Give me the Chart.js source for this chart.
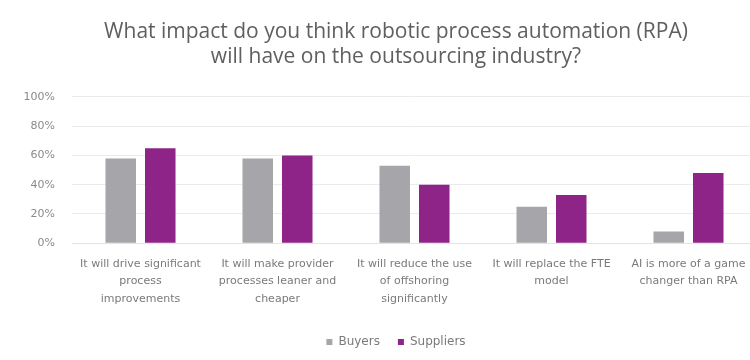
<!DOCTYPE html>
<html>
<head>
<meta charset="utf-8">
<script src="https://cdn.jsdelivr.net/npm/chart.js@4/dist/chart.umd.min.js"></script>
<style>
  html, body { margin: 0; padding: 0; background: #fff; overflow: hidden; }
  #wrap { position: absolute; left: 12px; top: 0; width: 768px; height: 360px; }
</style>
</head>
<body>
<div id="wrap"><canvas id="chart"></canvas></div>
<script>
var categories = [
    ['It will drive significant', 'process', 'improvements'],
    ['It will make provider', 'processes leaner and', 'cheaper'],
    ['It will reduce the use', 'of offshoring', 'significantly'],
    ['It will replace the FTE', 'model'],
    ['AI is more of a game', 'changer than RPA']
];
var buyers = [58, 58, 53, 25, 8];
var suppliers = [65, 60, 40, 33, 48];
var yTicks = [0, 20, 40, 60, 80, 100];

// y labels sit inside the left padding, widen the label clip area
var labelRoom = {
    id: 'labelRoom',
    afterLayout: function(chart) {
        chart.scales.y.left = 0;
    }
};

var ctx = document.getElementById('chart').getContext('2d');
var myChart = new Chart(ctx, {
    type: 'bar',
    data: {
        labels: categories,
        datasets: [{
            label: 'Buyers',
            data: buyers,
            backgroundColor: '#A6A6AA'
        }, {
            label: 'Suppliers',
            data: suppliers,
            backgroundColor: '#8E2488'
        }]
    },
    plugins: [labelRoom],
    options: {
        responsive: true,
        maintainAspectRatio: false,
        animation: false,
        // same padding both sides so title and legend stay centred on the canvas
        layout: { padding: { left: 23, right: 23, top: 0, bottom: 2 } },
        datasets: {
            bar: { categoryPercentage: 0.577, barPercentage: 0.772 }
        },
        plugins: {
            title: {
                display: true,
                text: ['What impact do you think robotic process automation (RPA)', 'will have on the outsourcing industry?'],
                color: '#5f5f5f',
                font: { family: 'Open Sans', size: 21, weight: 'normal', lineHeight: 1.19 },
                padding: { top: 20, bottom: 27 }
            },
            legend: {
                position: 'bottom',
                labels: {
                    color: '#7a7a7a',
                    boxWidth: 6,
                    boxHeight: 6,
                    padding: 18,
                    font: { family: 'DejaVu Sans', size: 12 }
                }
            },
            tooltip: { enabled: false }
        },
        scales: {
            x: {
                afterFit: function(scale) { scale.height = scale.height - 2; },
                grid: { display: false, drawTicks: false },
                border: { color: '#e3e3e3' },
                ticks: {
                    color: '#7a7a7a',
                    padding: 12,
                    maxRotation: 0,
                    autoSkip: false,
                    font: { family: 'DejaVu Sans', size: 11, lineHeight: 1.6 }
                }
            },
            y: {
                min: 0,
                max: 100,
                afterFit: function(scale) { scale.width = 37; },
                afterBuildTicks: function(scale) {
                    scale.ticks = yTicks.map(function(v) { return { value: v }; });
                },
                grid: { color: '#ebebeb', drawTicks: false },
                border: { display: false },
                ticks: {
                    color: '#8a8a8a',
                    padding: 17,
                    font: { family: 'DejaVu Sans', size: 11 },
                    callback: function(v) { return v + '%'; }
                }
            }
        }
    }
});
</script>
</body>
</html>
